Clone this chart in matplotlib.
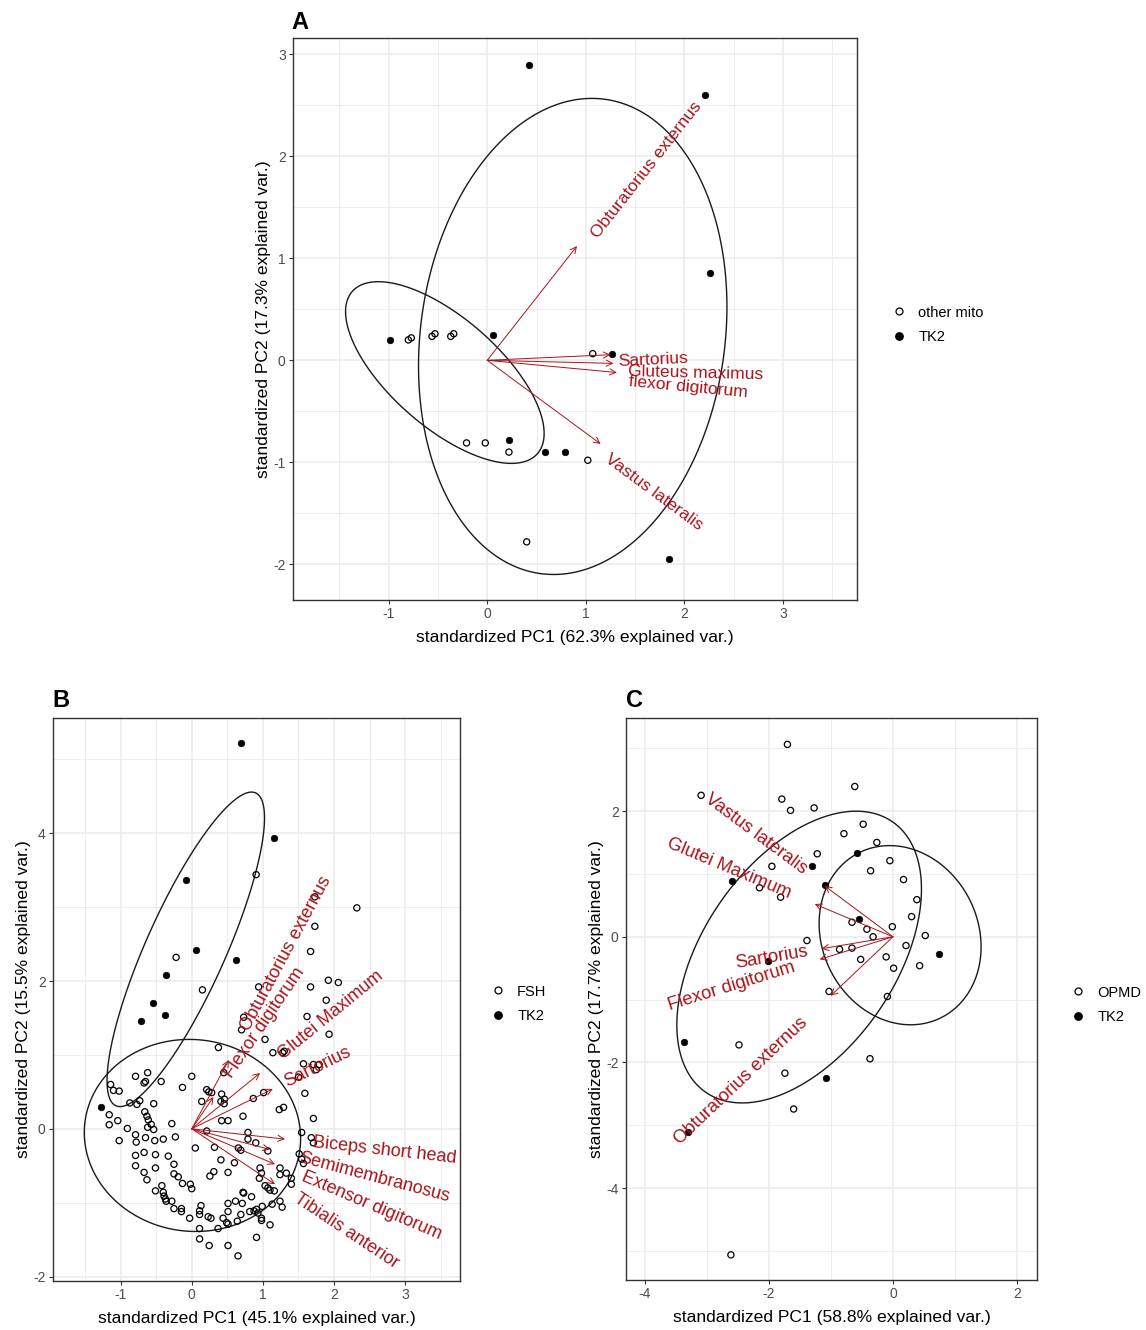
import numpy as np
import matplotlib
matplotlib.use("Agg")
import matplotlib.pyplot as plt
from matplotlib.font_manager import FontProperties
from matplotlib.textpath import TextPath
from matplotlib.lines import Line2D
from matplotlib.patches import Polygon

plt.rcParams['font.family'] = ['Liberation Sans', 'DejaVu Sans']
plt.rcParams['axes.unicode_minus'] = False

# ---------------- Panel A: other mito vs TK2 ----------------
a_mito_x = [-0.80, -0.77, -0.56, -0.53, -0.37, -0.34, 1.07, -0.21, -0.02, 0.22, 1.02, 0.40]
a_mito_y = [0.20, 0.22, 0.235, 0.26, 0.235, 0.26, 0.065, -0.81, -0.81, -0.90, -0.98, -1.78]
a_tk2_x = [0.42, 2.21, 2.26, -0.99, 0.06, 1.27, 0.22, 0.59, 0.785, 1.84]
a_tk2_y = [2.90, 2.60, 0.86, 0.196, 0.25, 0.065, -0.78, -0.90, -0.90, -1.95]
a_var_names = ['Obturatorius externus', 'Sartorius', 'Gluteus maximus', 'flexor digitorum', 'Vastus lateralis']
a_var_x = [0.91, 1.25, 1.28, 1.315, 1.15]
a_var_y = [1.12, 0.055, -0.03, -0.12, -0.82]
# ellipse stats per group: centre x, centre y, sd x, sd y, correlation
a_ell_cx = [-0.43, 0.867]
a_ell_cy = [-0.12, 0.234]
a_ell_sx = [0.667, 1.036]
a_ell_sy = [0.59, 1.546]
a_ell_r = [-0.67, 0.124]

# ---------------- Panel B: FSH vs TK2 ----------------
b_fsh_x = [-0.22, 0.15, 0.905, 1.73, 2.32, 1.73, 1.67, 0.94, 1.67, 1.92, 2.06, 1.89, 1.62, 0.73, 0.70, 1.93, 1.03,
           0.375, 1.14, 1.28, 1.30, 1.57, 1.71, 1.79, 1.75, 1.50, 1.59, 1.71, 0.45, 0.21, 0.24, 0.28, 0.14, 0.42,
           0.46, 0.41, 0.455, 0.865, 1.01, 0.72, 0.42, 0.51, 1.23, 1.29, 1.545, 0.21, 0.79, 0.79, 0.90, 1.68, 1.71,
           -0.79, -0.62, -0.67, -0.65, -0.43, 0.0, -0.13, -1.14, -1.10, -1.02, -0.87, -0.77, -0.73, -0.535, -1.16,
           -1.16, -1.04, -0.905, -0.66, -0.63, -0.61, -0.62, -0.57, -0.535, -0.28, -0.23, -1.02, -0.79, -0.78,
           -0.65, -0.52, -0.40,
           0.05, -0.79, -0.67, -0.51, -0.33, -0.79, -0.67, -0.63, -0.51, -0.25, -0.25, -0.19, -0.13, -0.02, 0.0,
           -0.42, -0.51, -0.40, -0.39, -0.37, -0.36, -0.28, -0.25, -0.145, -0.145, -0.03, 0.13, 0.11, 0.11, 0.11,
           0.11,
           0.32, 0.655, 0.69, 1.07, 0.41, 0.60, 0.51, 0.31, 0.255, 0.96, 0.98, 0.95, 1.24, 1.24, 1.33, 1.40, 1.40,
           1.51, 1.545, 1.57, 1.03, 1.07, 1.10, 1.16, 0.72, 0.73, 0.615, 0.71, 0.84, 0.51, 0.51, 1.13, 1.24, 1.27,
           0.99, 0.815, 0.875, 0.91, 0.93, 0.98, 0.98, 0.69, 0.64, 1.10, 0.23, 0.27, 0.44, 0.49, 0.37, 0.51, 0.245,
           0.51, 0.65, 0.91]
b_fsh_y = [2.32, 1.88, 3.44, 3.14, 2.99, 2.74, 2.40, 1.92, 1.92, 2.01, 1.98, 1.74, 1.52, 1.51, 1.34, 1.28, 1.21,
           1.10, 1.03, 1.03, 1.05, 0.88, 0.87, 0.87, 0.80, 0.70, 0.48, 0.14, 0.76, 0.53, 0.50, 0.49, 0.37, 0.47,
           0.40, 0.37, 0.34, 0.41, 0.49, 0.17, 0.11, 0.11, 0.26, 0.29, -0.05, -0.03, -0.05, -0.14, -0.19, -0.12, -0.19,
           0.71, 0.76, 0.62, 0.64, 0.64, 0.71, 0.56, 0.60, 0.52, 0.51, 0.35, 0.33, 0.38, 0.34, 0.19,
           0.055, 0.11, 0.004, 0.23, 0.17, 0.12, 0.02, 0.06, -0.01, 0.07, -0.11, -0.16, -0.08, -0.18,
           -0.12, -0.16, -0.14,
           -0.26, -0.36, -0.32, -0.35, -0.37, -0.50, -0.59, -0.69, -0.53, -0.48, -0.61, -0.65, -0.74, -0.75, -0.81,
           -0.77, -0.84, -0.86, -0.91, -0.95, -0.98, -0.98, -1.08, -1.08, -1.12, -1.21, -1.04, -1.11, -1.16, -1.35,
           -1.49,
           -0.25, -0.26, -0.29, -0.30, -0.42, -0.46, -0.59, -0.58, -0.64, -0.53, -0.60, -0.67, -0.53, -0.62, -0.60,
           -0.67, -0.75, -0.34, -0.41, -0.47, -0.77, -0.80, -0.83, -0.84, -0.86, -0.87, -0.98, -1.01, -0.92, -1.01,
           -1.12, -1.02, -0.98, -1.06, -1.05, -1.12, -1.11, -1.09, -1.14, -1.21, -1.24, -1.16, -1.25, -1.30, -1.19,
           -1.21, -1.21, -1.27, -1.35, -1.29, -1.58, -1.58, -1.72, -1.47]
b_tk2_x = [0.69, 1.15, -0.085, 0.06, 0.62, -0.36, -0.545, -0.376, -0.71, -1.28]
b_tk2_y = [5.22, 3.93, 3.37, 2.42, 2.28, 2.08, 1.70, 1.54, 1.46, 0.29]
b_var_names = ['Obturatorius externus', 'Flexor digitorum', 'Glutei Maximum', 'Sartorius',
               'Biceps short head', 'Semimembranosus', 'Extensor digitorum', 'Tibialis anterior']
b_var_x = [0.52, 0.305, 0.96, 1.14, 1.31, 1.10, 1.17, 1.17]
b_var_y = [0.93, 0.43, 0.755, 0.54, -0.14, -0.28, -0.48, -0.75]
b_ell_cx = [0.01, -0.084]
b_ell_cy = [-0.09, 2.429]
b_ell_sx = [1.007, 0.733]
b_ell_sy = [0.861, 1.41]
b_ell_r = [-0.03, 0.835]

# ---------------- Panel C: OPMD vs TK2 ----------------
c_opmd_x = [-1.70, -0.615, -3.09, -1.79, -1.65, -1.27, -0.48, -0.79, -0.26, -1.22, -1.95, -0.05, -0.36, 0.17,
            -2.15, -1.81, 0.385, 0.30, -0.66, -0.42, -0.01, -0.32, 0.52, -1.385, -0.86, -0.66, 0.21, -0.52,
            -0.11, 0.01, 0.43, -1.03, -0.09, -2.48, -0.37, -1.74, -1.60, -2.61]
c_opmd_y = [3.06, 2.39, 2.25, 2.19, 2.01, 2.05, 1.79, 1.64, 1.50, 1.32, 1.12, 1.21, 1.05, 0.91,
            0.78, 0.63, 0.59, 0.32, 0.23, 0.12, 0.16, 0.0, 0.02, -0.06, -0.20, -0.18, -0.14, -0.36,
            -0.32, -0.50, -0.46, -0.87, -0.95, -1.72, -1.94, -2.17, -2.74, -5.06]
c_tk2_x = [-0.58, -1.30, -2.59, -1.09, -0.54, 0.74, -2.01, -3.36, -1.08, -3.30]
c_tk2_y = [1.34, 1.12, 0.88, 0.83, 0.29, -0.28, -0.39, -1.67, -2.24, -3.11]
c_var_names = ['Vastus lateralis', 'Glutei Maximum', 'Sartorius', 'Flexor digitorum', 'Obturatorius externus']
c_var_x = [-1.10, -1.26, -1.15, -1.18, -1.005]
c_var_y = [0.81, 0.52, -0.19, -0.36, -0.94]
c_ell_cx = [0.115, -1.511]
c_ell_cy = [0.025, -0.323]
c_ell_sx = [0.864, 1.305]
c_ell_sy = [0.944, 1.537]
c_ell_r = [-0.13, 0.466]

W, H = 1146, 1330
fig = plt.figure(figsize=(W / 100, H / 100), dpi=100)

LABEL_FONT = FontProperties(family='Liberation Sans')
VAR_RED = '#A8141A'


def ellipse_xy(cx, cy, sx, sy, r, prob=0.68):
    ed = np.sqrt(-2 * np.log(1 - prob))
    cov = np.array([[sx * sx, r * sx * sy], [r * sx * sy, sy * sy]])
    L = np.linalg.cholesky(cov)
    t = np.linspace(0, 2 * np.pi, 300, endpoint=False)
    e = L @ np.vstack([np.cos(t), np.sin(t)]) * ed
    return e[0] + cx, e[1] + cy


def setup_axes(box, xlim, ylim, xmaj, xmin, ymaj, ymin, xlabel, ylabel):
    l, r, t, b = box
    ax = fig.add_axes([l / W, 1 - b / H, (r - l) / W, (b - t) / H])
    ax.set_xlim(*xlim)
    ax.set_ylim(*ylim)
    ax.set_xticks(xmaj)
    ax.set_xticks(xmin, minor=True)
    ax.set_yticks(ymaj)
    ax.set_yticks(ymin, minor=True)
    ax.grid(which='major', color='#EBEBEB', lw=1.1)
    ax.grid(which='minor', color='#EBEBEB', lw=0.6)
    ax.set_axisbelow(True)
    for s in ax.spines.values():
        s.set_color('#333333')
        s.set_linewidth(1.0)
    ax.tick_params(which='major', length=2.75, width=0.8, color='#333333',
                   labelcolor='#4D4D4D', labelsize=10, pad=2.5)
    ax.tick_params(which='minor', length=0)
    ax.set_xlabel(xlabel, fontsize=12.6, labelpad=6.5)
    ax.set_ylabel(ylabel, fontsize=12.6, labelpad=1.5)
    return ax


def draw_biplot(ax, groups, ells, names, vx, vy, fs, frac, va):
    for gx, gy, filled in groups:
        if filled:
            ax.scatter(gx, gy, s=22, c='black', edgecolors='black', linewidths=0.5, zorder=3)
        else:
            ax.scatter(gx, gy, s=20, facecolors='none', edgecolors='black', linewidths=0.9, zorder=3)
    for cx, cy, sx, sy, r in zip(*ells):
        ex, ey = ellipse_xy(cx, cy, sx, sy, r)
        ax.add_patch(Polygon(np.column_stack([ex, ey]), closed=True, fill=False,
                             edgecolor='#1a1a1a', lw=1.0, zorder=2))
    for name, x, y in zip(names, vx, vy):
        ax.annotate('', xy=(x, y), xytext=(0, 0),
                    arrowprops=dict(arrowstyle='->', color=VAR_RED, lw=0.7,
                                    shrinkA=0, shrinkB=0, mutation_scale=11), zorder=4)
        p0 = ax.transData.transform((0, 0))
        p1 = ax.transData.transform((x, y))
        dx, dy = p1 - p0
        phi = np.arctan2(dy, dx)
        angle = np.degrees(np.arctan(dy / dx))
        width = TextPath((0, 0), name, size=fs, prop=LABEL_FONT).get_extents().width
        d = frac * width
        ax.annotate(name, xy=(x, y), xytext=(d * np.cos(phi), d * np.sin(phi)),
                    textcoords='offset points', rotation=angle, rotation_mode='anchor',
                    ha='left' if x > 0 else 'right', va=va, color=VAR_RED, fontsize=fs, zorder=5)


def add_legend(labels, left, cy):
    handles = [Line2D([], [], ls='', marker='o', ms=5, mfc='none', mec='black', mew=0.9),
               Line2D([], [], ls='', marker='o', ms=5.3, mfc='black', mec='black')]
    fig.legend(handles, labels, loc='center left', bbox_to_anchor=(left / W, 1 - cy / H),
               frameon=False, fontsize=10.5, handlelength=1.0, handletextpad=0.8,
               labelspacing=0.75, borderpad=0, borderaxespad=0)


# Panel A
axA = setup_axes((293, 857, 38, 600), (-1.97, 3.75), (-2.35, 3.16),
                 [-1, 0, 1, 2, 3], np.arange(-1.5, 4, 1.0), [-2, -1, 0, 1, 2, 3], np.arange(-1.5, 3.1, 1.0),
                 'standardized PC1 (62.3% explained var.)', 'standardized PC2 (17.3% explained var.)')
draw_biplot(axA, [(a_mito_x, a_mito_y, False), (a_tk2_x, a_tk2_y, True)],
            (a_ell_cx, a_ell_cy, a_ell_sx, a_ell_sy, a_ell_r),
            a_var_names, a_var_x, a_var_y, fs=12.6, frac=0.11, va='top')
add_legend(['other mito', 'TK2'], 892, 325)

# Panel B
axB = setup_axes((53, 460, 718, 1281), (-1.95, 3.77), (-2.06, 5.56),
                 [-1, 0, 1, 2, 3], np.arange(-1.5, 4, 1.0), [-2, 0, 2, 4], [-1, 1, 3, 5],
                 'standardized PC1 (45.1% explained var.)', 'standardized PC2 (15.5% explained var.)')
draw_biplot(axB, [(b_fsh_x, b_fsh_y, False), (b_tk2_x, b_tk2_y, True)],
            (b_ell_cx, b_ell_cy, b_ell_sx, b_ell_sy, b_ell_r),
            b_var_names, b_var_x, b_var_y, fs=13, frac=0.2, va='center')
add_legend(['FSH', 'TK2'], 491, 1004)

# Panel C
axC = setup_axes((626, 1037, 718, 1280), (-4.30, 2.32), (-5.46, 3.48),
                 [-4, -2, 0, 2], [-3, -1, 1], [-4, -2, 0, 2], [-5, -3, -1, 1, 3],
                 'standardized PC1 (58.8% explained var.)', 'standardized PC2 (17.7% explained var.)')
draw_biplot(axC, [(c_opmd_x, c_opmd_y, False), (c_tk2_x, c_tk2_y, True)],
            (c_ell_cx, c_ell_cy, c_ell_sx, c_ell_sy, c_ell_r),
            c_var_names, c_var_x, c_var_y, fs=13.2, frac=0.2, va='center')
add_legend(['OPMD', 'TK2'], 1071, 1005)

# panel letters
for letter, x, y in [('A', 291, 29), ('B', 52, 707), ('C', 626, 707)]:
    fig.text(x / W, 1 - y / H, letter, fontsize=17, fontweight='bold', ha='left', va='baseline')

fig.savefig('out.png', dpi=100)
